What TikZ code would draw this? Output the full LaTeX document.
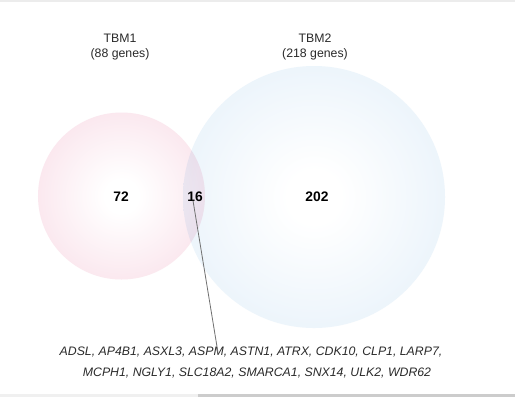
\documentclass[tikz,border=0pt]{standalone}
\usepackage{fontspec}
\setmainfont{Liberation Sans}
\definecolor{pinkc}{HTML}{F6CFDD}
\definecolor{bluec}{HTML}{D8E9F7}
\definecolor{linec}{HTML}{707070}
\definecolor{textc}{HTML}{2A2A2A}
\pgfdeclareradialshading{pinkshade}{\pgfpoint{0bp}{0bp}}{color(0bp)=(white); color(5bp)=(white); color(22bp)=(pinkc!40); color(38bp)=(pinkc!80); color(50bp)=(pinkc); color(100bp)=(pinkc)}
\pgfdeclareradialshading{blueshade}{\pgfpoint{0bp}{0bp}}{color(0bp)=(white); color(5bp)=(white); color(22bp)=(bluec!40); color(38bp)=(bluec!80); color(50bp)=(bluec); color(100bp)=(bluec)}
\tikzset{
  lbl/.style={font=\fontsize{12.3bp}{15bp}\selectfont, text=textc, align=center, inner sep=0pt},
  num/.style={font=\fontsize{13.8bp}{15bp}\selectfont\bfseries, text=black, inner sep=0pt},
  genes/.style={font=\fontsize{12.3bp}{14bp}\selectfont\itshape, text=textc, inner sep=0pt},
  setc/.style={circle, inner sep=0pt, draw=none}
}
\begin{document}
\begin{tikzpicture}[x=1bp,y=-1bp]
\useasboundingbox (0,0) rectangle (515,397);
\fill[white] (0,0) rectangle (515,397);
\fill[gray!15] (0,0) rectangle (515,1.5);
\fill[gray!12] (0,394) rectangle (198,397);
\fill[gray!40] (198,394) rectangle (515,397);
\node[setc, minimum size=167bp, shading=pinkshade] (tbm1) at (121.5,196) {};
\begin{scope}[blend mode=multiply]
\node[setc, minimum size=262bp, shading=blueshade] (tbm2) at (314,197) {};
\end{scope}
\node[lbl] (t1) at (120,47) {TBM1\\(88 genes)};
\node[lbl] (t2) at (315,47) {TBM2\\(218 genes)};
\node[num] (n72) at (121,197) {72};
\node[num] (n16) at (195,197) {16};
\node[num] (n202) at (317,197) {202};
\node[genes] (g1) at (251,352) {ADSL, AP4B1, ASXL3, ASPM, ASTN1, ATRX, CDK10, CLP1, LARP7,};
\node[genes] (g2) at (257,373) {MCPH1, NGLY1, SLC18A2, SMARCA1, SNX14, ULK2, WDR62};
\coordinate (a) at ([xshift=-2bp,yshift=1.5bp]n16.south);
\coordinate (b) at ([xshift=-33bp,yshift=-6bp]g1.north);
\draw[linec, line width=0.8bp] (a) -- (b);
\end{tikzpicture}
\end{document}
